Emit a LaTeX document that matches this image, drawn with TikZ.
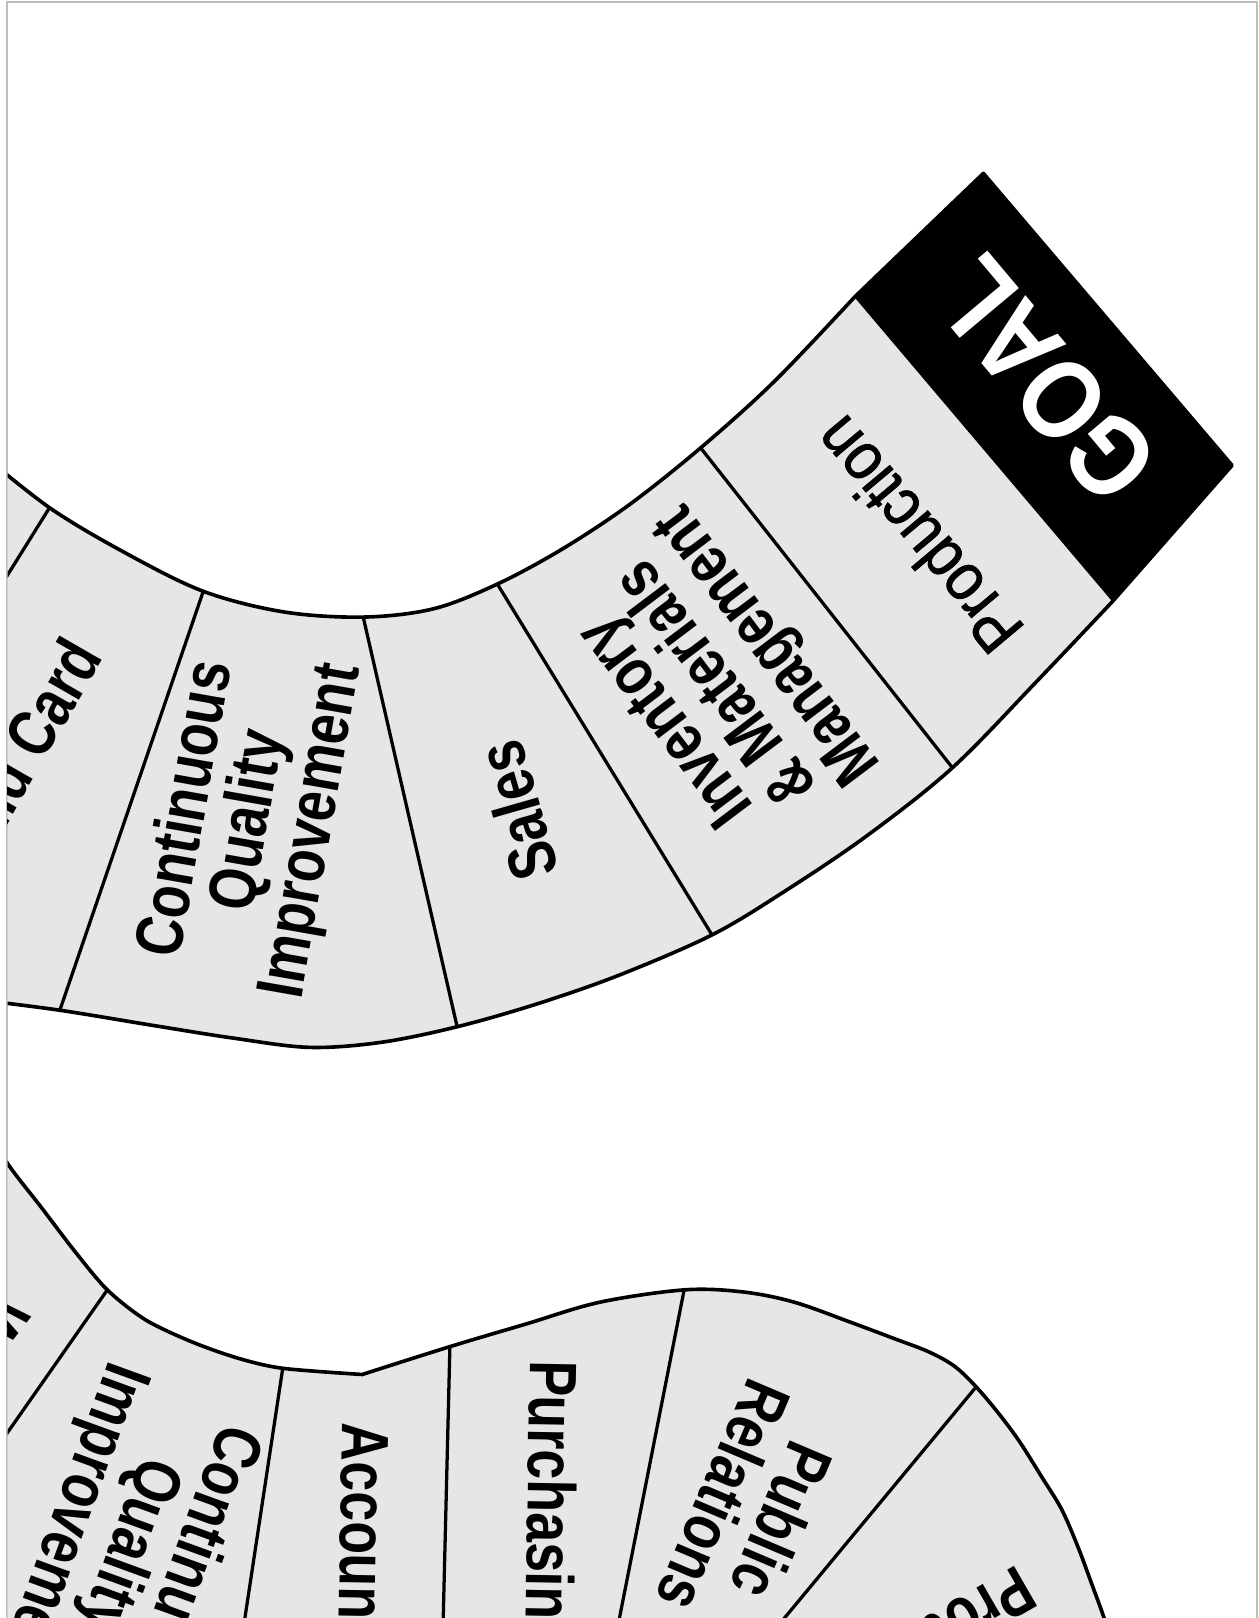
\documentclass[tikz,border=0pt]{standalone}
\usepackage{fontspec}
\usepackage{tikz}
\newfontfamily\cellfont[FakeStretch=0.8]{Liberation Sans Bold}
\newfontfamily\prodfont[FakeStretch=0.88,FakeBold=1.2]{Liberation Sans}
\newfontfamily\goalfont[FakeStretch=0.85]{Liberation Sans Bold}
\definecolor{cellgray}{RGB}{230,230,230}
\definecolor{framegray}{RGB}{190,190,190}
\tikzset{
  board/.style={fill=cellgray,draw=black,line width=1pt,line join=round},
  divider/.style={draw=black,line width=0.9pt},
  celltext/.style={font=\cellfont\fontsize{18.5}{17.5}\selectfont,align=center,inner sep=0pt},
  prodtext/.style={font=\prodfont\fontsize{18.5}{17.5}\selectfont,align=center,inner sep=0pt},
  goaltext/.style={font=\goalfont\fontsize{31}{31}\selectfont,text=white,inner sep=0pt},
}

\begin{document}
\begin{tikzpicture}[x=0.01cm,y=-0.01cm]
\useasboundingbox (0,0) rectangle (1220,1568);
\draw[framegray,line width=0.45pt] (7,1568) -- (7,2) -- (1218,2) -- (1218,1568);
\begin{scope}
\clip (7.5,2.5) rectangle (1217.5,1568);
% upper track
\coordinate (ui1) at (48,492);  \coordinate (uo1) at (-5,577);
\coordinate (ui2) at (197,573); \coordinate (uo2) at (58,979);
\coordinate (ui3) at (352,598); \coordinate (uo3) at (443,995);
\coordinate (ui4) at (482,566); \coordinate (uo4) at (690,906);
\coordinate (ui5) at (679,434); \coordinate (uo5) at (923,744);
\coordinate (ui6) at (828,288); \coordinate (uo6) at (1078,583);
\coordinate (gtop) at (953,168); \coordinate (gend) at (1194,451);
\path[board] plot[smooth,tension=0.55] coordinates {(-20,438) (ui1) (120,535) (ui2) (275,593) (ui3) (420,590) (ui4) (545,532) (610,489) (ui5) (750,370) (ui6)}
  -- (gtop) -- (gend) -- (uo6)
  -- plot[smooth,tension=0.55] coordinates {(uo6) (1005,660) (uo5) (840,810) (760,864) (uo4) (600,945) (520,973) (uo3) (370,1010) (300,1015) (226,1006) (150,994) (uo2) (-20,969)} -- cycle;
\fill[black] (ui6) -- (gtop) -- (gend) -- (uo6) -- cycle;
\draw[divider] (ui1) -- (uo1);
\draw[divider] (ui2) -- (uo2);
\draw[divider] (ui3) -- (uo3);
\draw[divider] (ui4) -- (uo4);
\draw[divider] (ui5) -- (uo5);
\node[celltext,rotate=60] (wildA) at (20,730) {Wild Card};
\node[celltext,rotate=80] (cqiA) at (243,795) {Continuous\\Quality\\Improvement};
\node[celltext,rotate=106] (sales) at (501,786) {Sales};
\node[celltext,rotate=127] (inventory) at (697,660) {Inventory\\\& Materials\\Management};
\node[prodtext,rotate=130] (production) at (889,519) {Production};
\node[goaltext,rotate=130] (goal) at (1013,368) {GOAL};
% lower track
\coordinate (li1) at (104,1250); \coordinate (lo1) at (-10,1413);
\coordinate (li2) at (274,1326); \coordinate (lo2) at (234,1590);
\coordinate (lk) at (351,1332);
\coordinate (li3) at (436,1305); \coordinate (lo3) at (429,1590);
\coordinate (li4) at (663,1250); \coordinate (lo4) at (596,1590);
\coordinate (li5) at (946,1344); \coordinate (lo5) at (742,1590);
\path[board] (-20,1600) -- plot[smooth,tension=0.5] coordinates {(-20,1080) (7,1127) (40,1170) (72,1212) (li1) (141,1279) (185,1300) (230,1316) (li2) (lk)}
  -- plot[smooth,tension=0.55] coordinates {(lk) (li3) (510,1283) (581,1262) (li4) (720,1252) (770,1262) (826,1282) (866,1297) (900,1310) (925,1324) (li5) (968,1370) (988,1397) (1010,1432) (1029,1463) (1045,1500) (1058,1535) (1070,1568) (1080,1600)} -- cycle;
\draw[divider] (li1) -- (lo1);
\draw[divider] (li2) -- (lo2);
\draw[divider] (li3) -- (lo3);
\draw[divider] (li4) -- (lo4);
\draw[divider] (li5) -- (lo5);
\node[celltext,rotate=-128,anchor=west] (wildB) at (14,1262) {Wild Card};
\node[celltext,rotate=-110] (cqiB) at (124,1498) {Continuous\\Quality\\Improvement};
\node[celltext,rotate=-91] (accounting) at (346,1522) {Accounting};
\node[celltext,rotate=-91] (purchasing) at (528,1460) {Purchasing};
\node[celltext,rotate=-113] (publicrel) at (730,1462) {Public\\Relations};
\node[celltext,rotate=-150,anchor=west] (prodB) at (998,1536) {Production};
\end{scope}
\end{tikzpicture}
\end{document}
